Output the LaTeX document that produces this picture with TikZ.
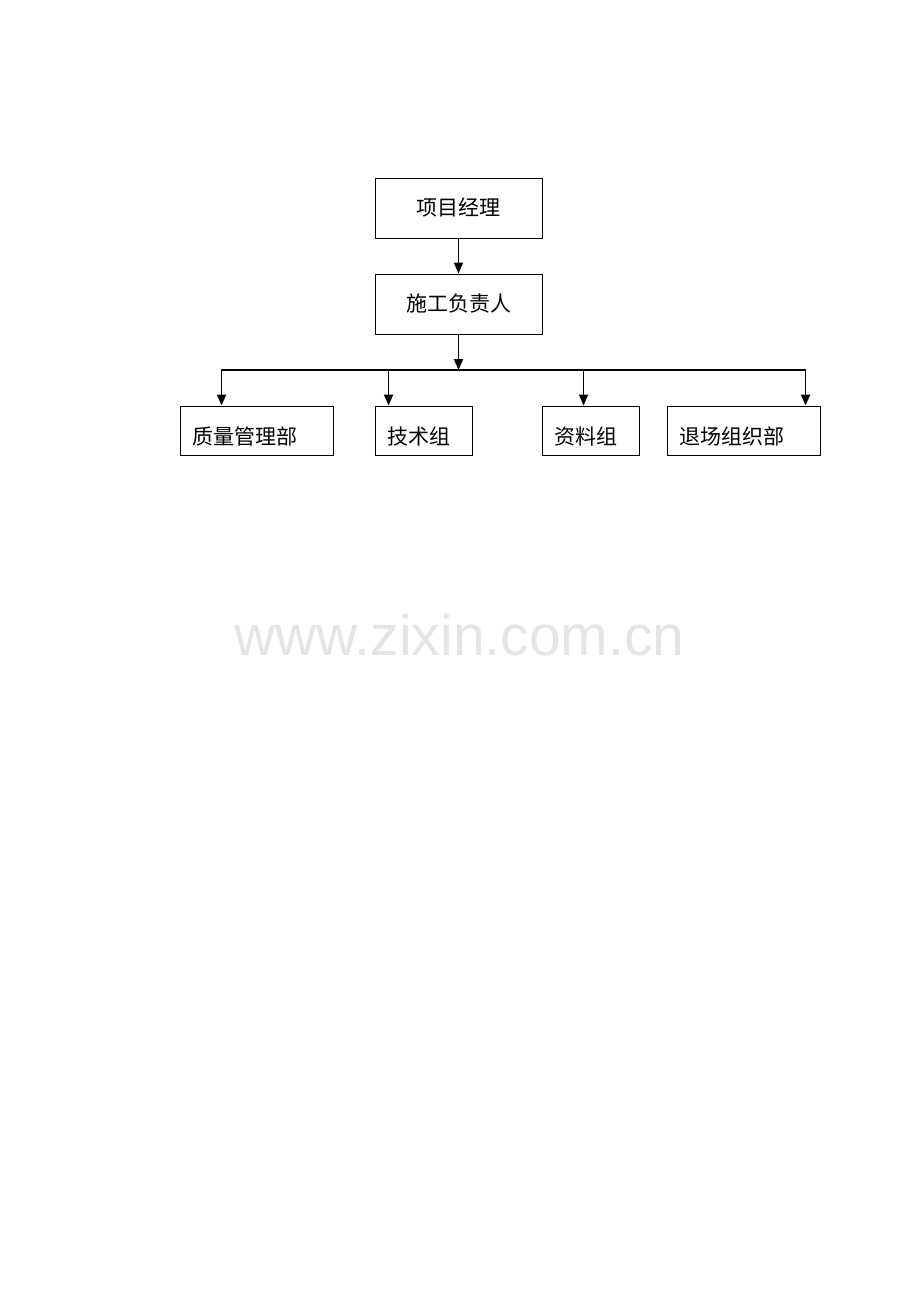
\documentclass[tikz,border=0pt]{standalone}
\usepackage{fontspec}
\setmainfont{Liberation Sans}
\newfontfamily\cjk{Noto Sans CJK SC}
\usetikzlibrary{arrows.meta,calc}

\begin{document}
\begin{tikzpicture}[x=0.5pt,y=-0.5pt]
\tikzset{box/.style={draw, line width=0.45pt, inner sep=0pt, font=\cjk\fontsize{10.5}{12}\selectfont}}
\tikzset{top box/.style={box, minimum width=83.5pt, minimum height=30pt}}
\tikzset{dept/.style={box, align=left, inner xsep=6pt, text width=#1, minimum height=24.5pt, text height=15pt, text depth=1.5pt}}
\tikzset{link/.style={line width=0.9pt, -{Triangle[length=5.5pt,width=4.5pt]}}}
\useasboundingbox (0,0) rectangle (920,1302);

\node[top box] (PM) at (458.5,208) {项目经理};
\node[top box] (SG) at (458.5,304) {施工负责人};
\node[dept=64.5pt] (Q) at (256.5,430.5) {质量管理部};
\node[dept=36.5pt] (T) at (423.5,430.5) {技术组};
\node[dept=36.5pt] (D) at (590.5,430.5) {资料组};
\node[dept=64.5pt] (E) at (743.5,430.5) {退场组织部};
\coordinate (B) at (458.5,370);

\draw[link] (PM) -- (SG);
\draw[link] (SG) -- (B);
\draw[link] (B) -| ($(Q.north west)+(42,0)$);
\draw[link] (B) -| ($(T.north west)+(14,0)$);
\draw[link] (B) -| ($(D.north west)+(42,0)$);
\draw[link] (B) -| ($(E.north west)+(139,0)$);

% watermark
\node[text=black!10, font=\fontsize{28.5}{30}\selectfont] (W) at (459.5,635) {www.zixin.com.cn};
\end{tikzpicture}
\end{document}
